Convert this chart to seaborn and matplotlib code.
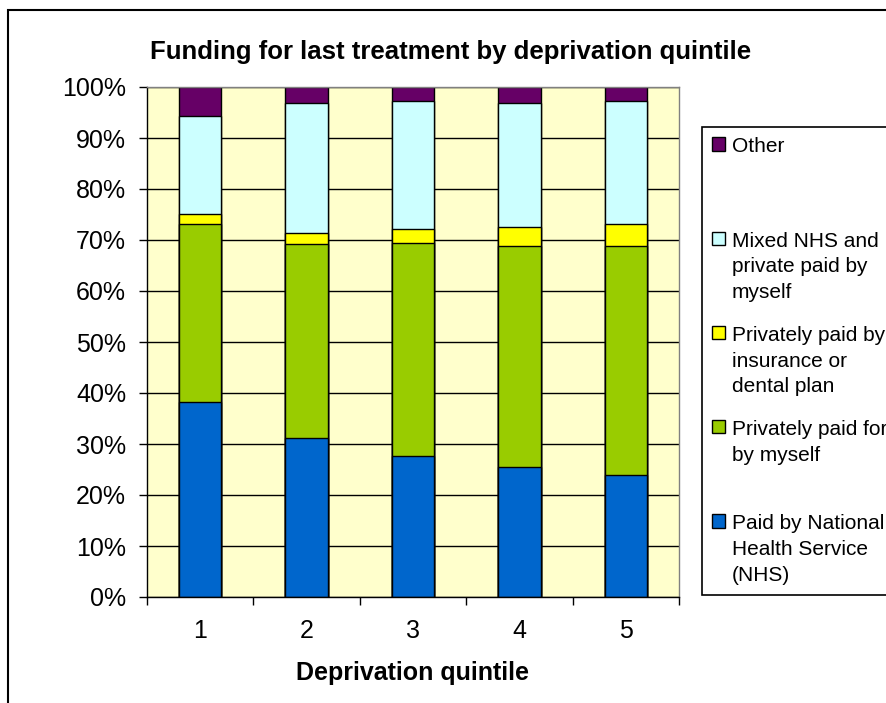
import numpy as np
import pandas as pd
import matplotlib
matplotlib.use("Agg")
import matplotlib.pyplot as plt
import seaborn as sns
from matplotlib.patches import Patch, Rectangle
from matplotlib.offsetbox import HPacker
from matplotlib.ticker import PercentFormatter, MultipleLocator, FixedLocator

# Data (percent of patients in each quintile)
quintiles = ['1', '2', '3', '4', '5']
nhs = [38.2, 31.1, 27.6, 25.5, 23.9]
private_self = [34.9, 38.1, 41.9, 43.4, 45.0]
insurance = [1.9, 2.2, 2.6, 3.6, 4.2]
mixed = [19.4, 25.5, 25.2, 24.4, 24.2]
other = [5.6, 3.1, 2.7, 3.1, 2.7]

series_names = ['Paid by National Health Service (NHS)',
                'Privately paid for by myself',
                'Privately paid by insurance or dental plan',
                'Mixed NHS and private paid by myself',
                'Other']
legend_labels = ['Paid by National\nHealth Service\n(NHS)',
                 'Privately paid for\nby myself\n',
                 'Privately paid by\ninsurance or\ndental plan',
                 'Mixed NHS and\nprivate paid by\nmyself',
                 'Other\n\n']
colors = ['#0066CC', '#99CC00', '#FFFF00', '#CCFFFF', '#660066']

df = pd.DataFrame({'Quintile': quintiles,
                   series_names[0]: nhs,
                   series_names[1]: private_self,
                   series_names[2]: insurance,
                   series_names[3]: mixed,
                   series_names[4]: other})

# cumulative tops so the stack can be drawn as overlapping bars
cum = df[series_names].cumsum(axis=1)
cum['Quintile'] = df['Quintile']

sns.set_style('white')
plt.rcParams['font.family'] = ['Liberation Sans', 'DejaVu Sans']
plt.rcParams['text.color'] = 'black'
plt.rcParams['axes.labelcolor'] = 'black'
plt.rcParams['xtick.color'] = 'black'
plt.rcParams['ytick.color'] = 'black'

fig = plt.figure(figsize=(8.86, 7.03), dpi=100)
ax = fig.add_axes([147 / 886, 106 / 703, 532 / 886, 510 / 703])
ax.set_facecolor('#FFFFCC')

for name, col in reversed(list(zip(series_names, colors))):
    sns.barplot(data=cum, x='Quintile', y=name, order=quintiles, color=col,
                edgecolor='black', linewidth=1, width=0.4, saturation=1,
                errorbar=None, ax=ax)

ax.set_ylim(0, 100)
ax.set_xlim(-0.5, 4.5)
ax.yaxis.set_major_locator(MultipleLocator(10))
ax.yaxis.set_major_formatter(PercentFormatter(100, decimals=0))
ax.grid(axis='y', color='black', linewidth=1)
ax.grid(axis='x', visible=False)
ax.set_axisbelow(True)

for side in ['left', 'bottom']:
    ax.spines[side].set_color('black')
    ax.spines[side].set_linewidth(1)
for side in ['top', 'right']:
    ax.spines[side].set_color('#808080')
    ax.spines[side].set_linewidth(1)

ax.xaxis.set_minor_locator(FixedLocator(np.arange(-0.5, 5, 1)))
ax.tick_params(axis='x', which='major', length=0, pad=16, labelsize=18)
ax.tick_params(axis='x', which='minor', length=6, width=1, direction='out',
               color='black', bottom=True)
ax.tick_params(axis='y', length=6, width=1, direction='out', color='black',
               pad=9, labelsize=18, left=True)

ax.set_xlabel('Deprivation quintile', fontsize=18, fontweight='bold', labelpad=13)
ax.set_ylabel('')

fig.text(451 / 886, 1 - 52 / 703, 'Funding for last treatment by deprivation quintile',
         ha='center', va='center', fontsize=18.5, fontweight='bold')

handles = [Patch(facecolor=c, edgecolor='black', linewidth=1) for c in colors]
leg = fig.legend(handles[::-1], legend_labels[::-1], loc='upper left',
                 bbox_to_anchor=(702 / 886, 1 - 127 / 703), borderaxespad=0,
                 fontsize=15, frameon=True, fancybox=False, edgecolor='black',
                 framealpha=1, borderpad=0.5, handlelength=0.6, handleheight=0.6,
                 handletextpad=0.34, labelspacing=1.14)
leg.get_frame().set_linewidth(1.2)
for t in leg.get_texts():
    t.set_linespacing(1.45)
for box in leg.findobj(lambda a: isinstance(a, HPacker)):
    box.align = 'top'

# outer chart border
fig.add_artist(Rectangle((8 / 886, -0.1), 1.0, 1.1 - 10 / 703,
                         transform=fig.transFigure, fill=False,
                         edgecolor='black', linewidth=1.5))

fig.savefig('out.png', dpi=100, facecolor='white')
